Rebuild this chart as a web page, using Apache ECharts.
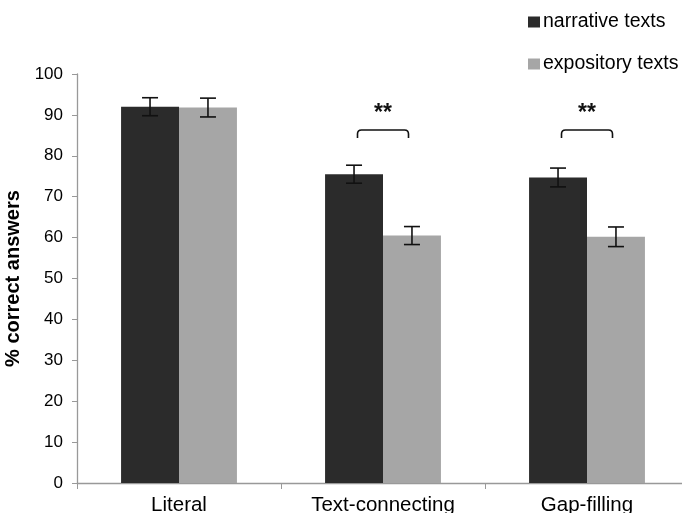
<!DOCTYPE html>
<html><head><meta charset="utf-8">
<script src="https://cdn.jsdelivr.net/npm/echarts@6/dist/echarts.min.js"></script>
<style>html,body{margin:0;padding:0;background:#fff}#c{width:682px;height:513px}</style>
</head><body><div id="c"></div>
<script>
const categories = ['Literal', 'Text-connecting', 'Gap-filling'];
const narrative = [92.0, 75.5, 74.7];
const narrativeErr = [2.2, 2.2, 2.3];
const expository = [91.8, 60.5, 60.2];
const expositoryErr = [2.3, 2.2, 2.4];
const sigCategories = [1, 2];
const sigBracketY = [86.3, 86.3];
const sigLabel = '**';
const yTicks = { min: 0, max: 100, interval: 10 };

const chart = echarts.init(document.getElementById('c'));
const BAR_FRAC = 0.284;
const BRACKET_FRAC = 0.25;
function errItem(offsetSign, vals, errs) {
  return function (params, api) {
    const i = api.value(0);
    const c = api.coord([i, vals[i]]);
    const bw = api.size([1, 0])[0];
    const x = c[0] + offsetSign * bw * BAR_FRAC / 2;
    const top = api.coord([i, vals[i] + errs[i]])[1];
    const bot = api.coord([i, vals[i] - errs[i]])[1];
    const cap = 8;
    const st = { stroke: '#111', lineWidth: 1.6 };
    return { type: 'group', children: [
      { type: 'line', shape: { x1: x, y1: top, x2: x, y2: bot }, style: st },
      { type: 'line', shape: { x1: x - cap, y1: top, x2: x + cap, y2: top }, style: st },
      { type: 'line', shape: { x1: x - cap, y1: bot, x2: x + cap, y2: bot }, style: st }
    ]};
  };
}
const sigData = sigCategories.map((c, k) => [c, sigBracketY[k]]);
chart.setOption({
  animation: false,
  textStyle: { fontFamily: 'Liberation Sans, Arial, sans-serif' },
  grid: { left: 77, top: 74, width: 612, bottom: 30, outerBoundsMode: 'none', containLabel: false },
  legend: {
    orient: 'vertical', left: 523, top: 7, itemGap: 22, itemWidth: 12, itemHeight: 11,
    icon: 'rect', textStyle: { fontSize: 19.5, color: '#000', padding: [0, 0, 0, -2] },
    data: ['narrative texts', 'expository texts']
  },
  xAxis: {
    type: 'category', data: categories,
    axisLine: { lineStyle: { color: '#999', width: 1.3 } },
    axisTick: { show: true, length: 6, lineStyle: { color: '#999' } },
    axisLabel: { fontSize: 20.5, color: '#000', margin: 12 }
  },
  yAxis: {
    type: 'value', min: yTicks.min, max: yTicks.max, interval: yTicks.interval,
    name: '% correct answers', nameLocation: 'middle', nameGap: 51, nameRotate: 90,
    nameTextStyle: { fontSize: 20, fontWeight: 'bold', color: '#000' },
    axisLine: { show: true, lineStyle: { color: '#999', width: 1.3 } },
    axisTick: { show: true, length: 5, lineStyle: { color: '#999' } },
    axisLabel: { fontSize: 17, color: '#000', margin: 14 },
    splitLine: { show: false }
  },
  series: [
    { name: 'narrative texts', type: 'bar', data: narrative, barWidth: '28.4%', barGap: '0%',
      itemStyle: { color: '#2b2b2b' } },
    { name: 'expository texts', type: 'bar', data: expository, barWidth: '28.4%', barGap: '0%',
      itemStyle: { color: '#a6a6a6' } },
    { type: 'custom', data: categories.map((_, i) => [i]), renderItem: errItem(-1, narrative, narrativeErr), z: 5 },
    { type: 'custom', data: categories.map((_, i) => [i]), renderItem: errItem(1, expository, expositoryErr), z: 5 },
    { type: 'custom', data: sigData, z: 6,
      renderItem: function (params, api) {
        const i = api.value(0), v = api.value(1);
        const c = api.coord([i, v]);
        const bw = api.size([1, 0])[0];
        const xl = c[0] - bw * BRACKET_FRAC / 2, xr = c[0] + bw * BRACKET_FRAC / 2;
        const y = c[1], r = 4, d = 8;
        const path = `M${xl},${y + d} L${xl},${y + r} Q${xl},${y} ${xl + r},${y} L${xr - r},${y} Q${xr},${y} ${xr},${y + r} L${xr},${y + d}`;
        return { type: 'group', children: [
          { type: 'path', shape: { pathData: path }, style: { stroke: '#111', lineWidth: 1.6, fill: null } },
          { type: 'text', style: { text: sigLabel, x: c[0], y: y - 5, align: 'center', verticalAlign: 'bottom',
            font: 'bold 23px Liberation Sans, Arial, sans-serif', fill: '#111' } }
        ]};
      }
    }
  ]
});
</script></body></html>
